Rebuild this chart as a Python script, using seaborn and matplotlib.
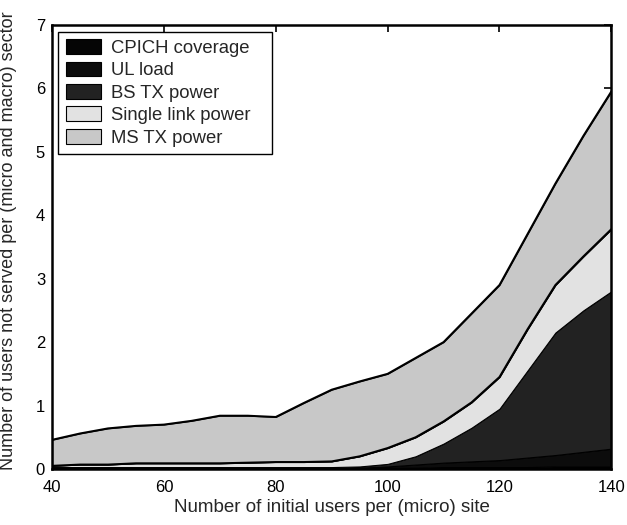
import matplotlib
matplotlib.use("Agg")
import matplotlib.pyplot as plt
import seaborn as sns
import numpy as np

x = [40, 45, 50, 55, 60, 65, 70, 75, 80, 85, 90, 95, 100, 105, 110, 115, 120, 125, 130, 135, 140]
cpich = [0.02, 0.02, 0.02, 0.02, 0.02, 0.02, 0.02, 0.02, 0.02, 0.02, 0.02, 0.02, 0.02, 0.02, 0.03, 0.03, 0.03, 0.03, 0.04, 0.04, 0.04]
ul_load = [0.0, 0.0, 0.0, 0.0, 0.0, 0.0, 0.0, 0.0, 0.0, 0.0, 0.0, 0.0, 0.02, 0.05, 0.07, 0.09, 0.11, 0.15, 0.18, 0.23, 0.28]
bs_tx = [0.01, 0.01, 0.01, 0.01, 0.01, 0.01, 0.01, 0.01, 0.01, 0.01, 0.01, 0.02, 0.04, 0.13, 0.30, 0.53, 0.81, 1.37, 1.93, 2.23, 2.48]
single_link = [0.02, 0.04, 0.04, 0.06, 0.06, 0.06, 0.06, 0.07, 0.08, 0.08, 0.09, 0.16, 0.25, 0.30, 0.35, 0.40, 0.50, 0.65, 0.75, 0.85, 0.98]
ms_tx = [0.41, 0.49, 0.57, 0.59, 0.61, 0.67, 0.75, 0.74, 0.71, 0.93, 1.13, 1.18, 1.17, 1.25, 1.25, 1.40, 1.45, 1.50, 1.60, 1.90, 2.17]

labels = ["CPICH coverage", "UL load", "BS TX power", "Single link power", "MS TX power"]
colors = ["#050505", "#0c0c0c", "#222222", "#e2e2e2", "#c8c8c8"]

sns.set_style("white")
plt.rcParams["font.family"] = ["Liberation Sans", "DejaVu Sans"]

fig = plt.figure(figsize=(6.27, 5.25), dpi=100)
ax = fig.add_axes([0.083, 0.1067, 0.892, 0.846])

ax.stackplot(x, cpich, ul_load, bs_tx, single_link, ms_tx,
             labels=labels, colors=colors, edgecolor="black", linewidth=0.8)

cum_sl = np.cumsum([cpich, ul_load, bs_tx, single_link], axis=0)[-1]
cum_ms = cum_sl + np.array(ms_tx)
sns.lineplot(x=x, y=cum_sl, ax=ax, color="black", linewidth=1.4, legend=False)
sns.lineplot(x=x, y=cum_ms, ax=ax, color="black", linewidth=1.4, legend=False)

ax.set_xlim(40, 140)
ax.set_ylim(0, 7)
ax.set_xticks([40, 60, 80, 100, 120, 140])
ax.set_yticks([0, 1, 2, 3, 4, 5, 6, 7])
ax.tick_params(direction="in", length=5, width=1.2, top=True, right=True,
               labelsize=12, colors="black")
ax.tick_params(axis="x", pad=8)
ax.tick_params(axis="y", pad=5)
for s in ax.spines.values():
    s.set_visible(True)
    s.set_color("black")
    s.set_linewidth(1.8)

ax.set_xlabel("Number of initial users per (micro) site", fontsize=13.5, labelpad=3)
ax.set_ylabel("Number of users not served per (micro and macro) sector", fontsize=13)
ax.yaxis.set_label_coords(-0.062, 0.515)

leg = ax.legend(loc="upper left", bbox_to_anchor=(0.011, 0.984, 0.383, 0.0),
                mode="expand", borderaxespad=0.0,
                fontsize=13.3, frameon=True, fancybox=False,
                edgecolor="black", framealpha=1, handlelength=1.9, handleheight=0.85,
                borderpad=0.4, labelspacing=0.25, handletextpad=0.55)
leg.get_frame().set_linewidth(1.0)

fig.savefig("out.png", dpi=100)
